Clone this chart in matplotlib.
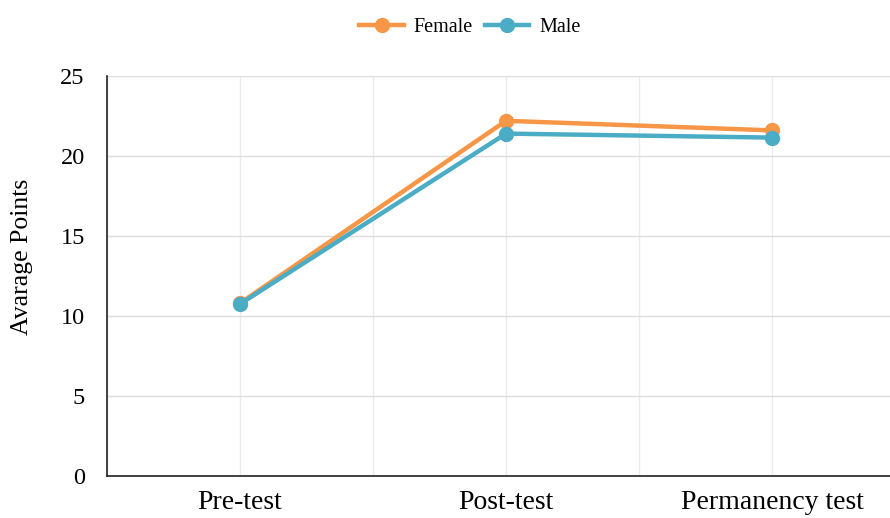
import matplotlib.pyplot as plt
from matplotlib.ticker import MultipleLocator

categories = ["Pre-test", "Post-test", "Permanency test"]
female = [10.8, 22.2, 21.6]
male = [10.75, 21.4, 21.15]

plt.rcParams["font.family"] = ["Liberation Serif", "DejaVu Serif"]

fig = plt.figure(figsize=(8.9, 5.18), dpi=100)
ax = fig.add_axes([107 / 890, 42 / 518, 798 / 890, 400 / 518])

x = range(len(categories))
ax.plot(x, female, color="#F79646", lw=3.2, marker="o", ms=10, label="Female", zorder=3)
ax.plot(x, male, color="#4BACC6", lw=3.2, marker="o", ms=10, label="Male", zorder=3)

ax.set_xlim(-0.5, 2.5)
ax.set_ylim(0, 25)
ax.set_xticks(list(x))
ax.set_xticklabels(categories)
ax.xaxis.set_minor_locator(MultipleLocator(0.5))
ax.yaxis.set_major_locator(MultipleLocator(5))
ax.grid(True, which="both", axis="x", color="#ececec", lw=1)
ax.grid(True, which="major", axis="y", color="#dddddd", lw=1)
ax.set_axisbelow(True)
ax.tick_params(which="both", length=0)
ax.tick_params(axis="x", labelsize=20, pad=10)
ax.tick_params(axis="y", labelsize=17.5, pad=16)
for s in ["top", "right"]:
    ax.spines[s].set_visible(False)
for s in ["left", "bottom"]:
    ax.spines[s].set_color("#222222")
    ax.spines[s].set_linewidth(1.2)

ax.set_ylabel("Avarage Points", fontsize=18.5)
ax.yaxis.set_label_coords(-0.093, 0.5475)
ax.legend(loc="upper center", bbox_to_anchor=(0.455, 1.19), ncol=2, frameon=False,
          fontsize=14.5, handlelength=2.2, columnspacing=0.6, handletextpad=0.5)

fig.savefig("out.png", dpi=100)
